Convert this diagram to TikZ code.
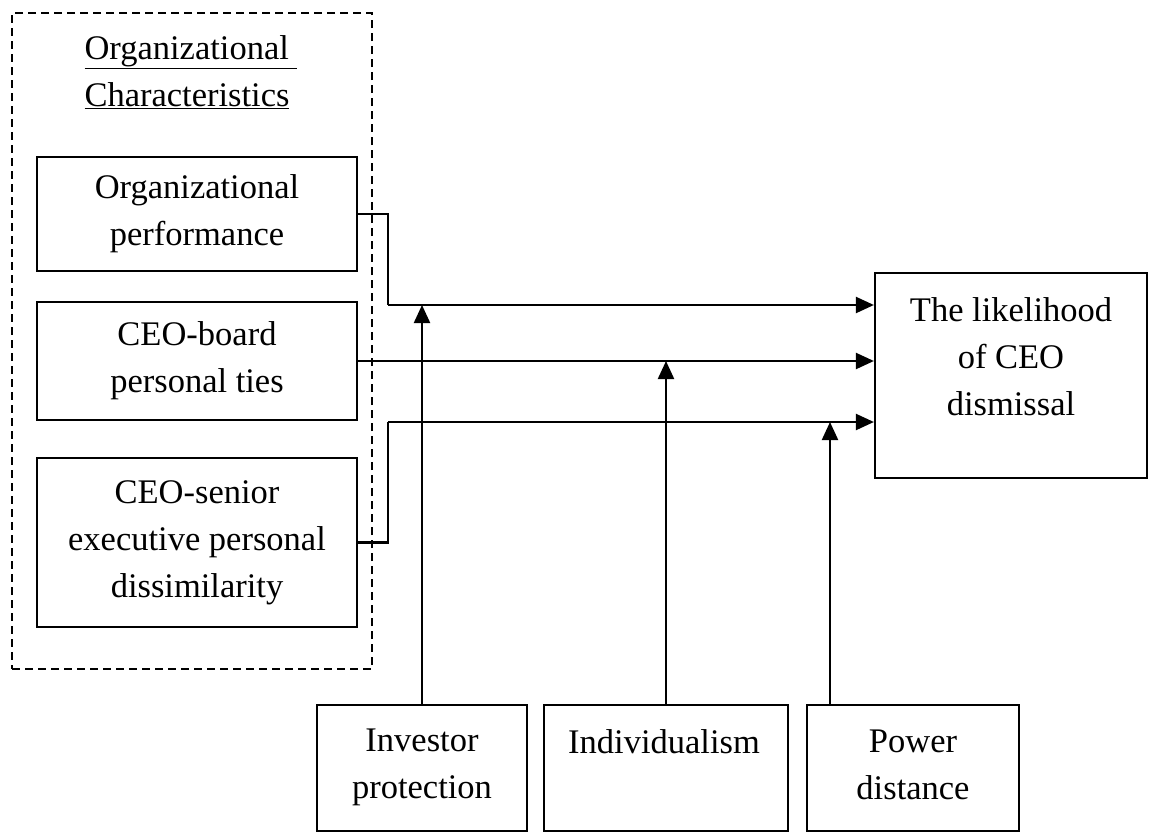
\documentclass[tikz,border=0pt]{standalone}
\usepackage{fontspec}
\setmainfont{Liberation Serif}
\usetikzlibrary{arrows.meta}
\begin{document}
\begin{tikzpicture}[x=1pt,y=-1pt,
  every node/.style={font=\fontsize{34.5}{47}\selectfont, inner sep=0pt, align=center},
  box/.style={draw, line width=2.2pt},
  frame/.style={draw, line width=2pt, dash pattern=on 8pt off 5pt},
  conn/.style={line width=2.2pt},
  arr/.style={line width=2.2pt, -{Triangle[length=18pt,width=16pt]}}]
\useasboundingbox (0,0) rectangle (1149,833);

% dashed frame and title
\node[frame, minimum width=360pt, minimum height=656pt] (frm) at (192,341) {};
\node[align=left] (title) at (191,72) {\underline{Organizational\ }\\\underline{Characteristics}};

% left boxes
\node[box, minimum width=320pt, minimum height=114pt] (perf) at (197,214) {Organizational\\performance};
\node[box, minimum width=320pt, minimum height=118pt] (ties) at (197,361) {CEO-board\\personal ties};
\node[box, minimum width=320pt, minimum height=169pt] (diss) at (197,542.5) {CEO-senior\\executive personal\\dissimilarity};

% outcome box
\node[box, minimum width=272pt, minimum height=205pt] (out) at (1011,375.5) {};
\node (outtxt) at (1011,357) {The likelihood\\of CEO\\dismissal};

% moderator boxes
\node[box, minimum width=210pt, minimum height=126pt] (inv) at (422,768) {};
\node (invtxt) at (422,767) {Investor\\protection};
\node[box, minimum width=244pt, minimum height=126pt] (ind) at (666,768) {};
\node (indtxt) at (664,742) {Individualism};
\node[box, minimum width=212pt, minimum height=126pt] (pow) at (913,768) {};
\node (powtxt) at (913,765) {Power\\distance};

% junction coordinates
\coordinate (j1) at (388,305);
\coordinate (j3) at (388,422);
\coordinate (p3) at (830,422);

% main paths
\draw[conn] (perf.east) -| (j1);
\draw[arr] (j1) -- (out.west |- j1);
\draw[arr] (ties.east) -- (out.west |- ties.east);
\draw[conn] (diss.east) -| (j3);
\draw[arr] (j3) -- (out.west |- j3);

% moderator arrows
\draw[arr] (inv.north) -- (inv.north |- j1);
\draw[arr] (ind.north) -- (ind.north |- ties.east);
\draw[arr] (p3 |- pow.north) -- (p3);
\end{tikzpicture}
\end{document}
